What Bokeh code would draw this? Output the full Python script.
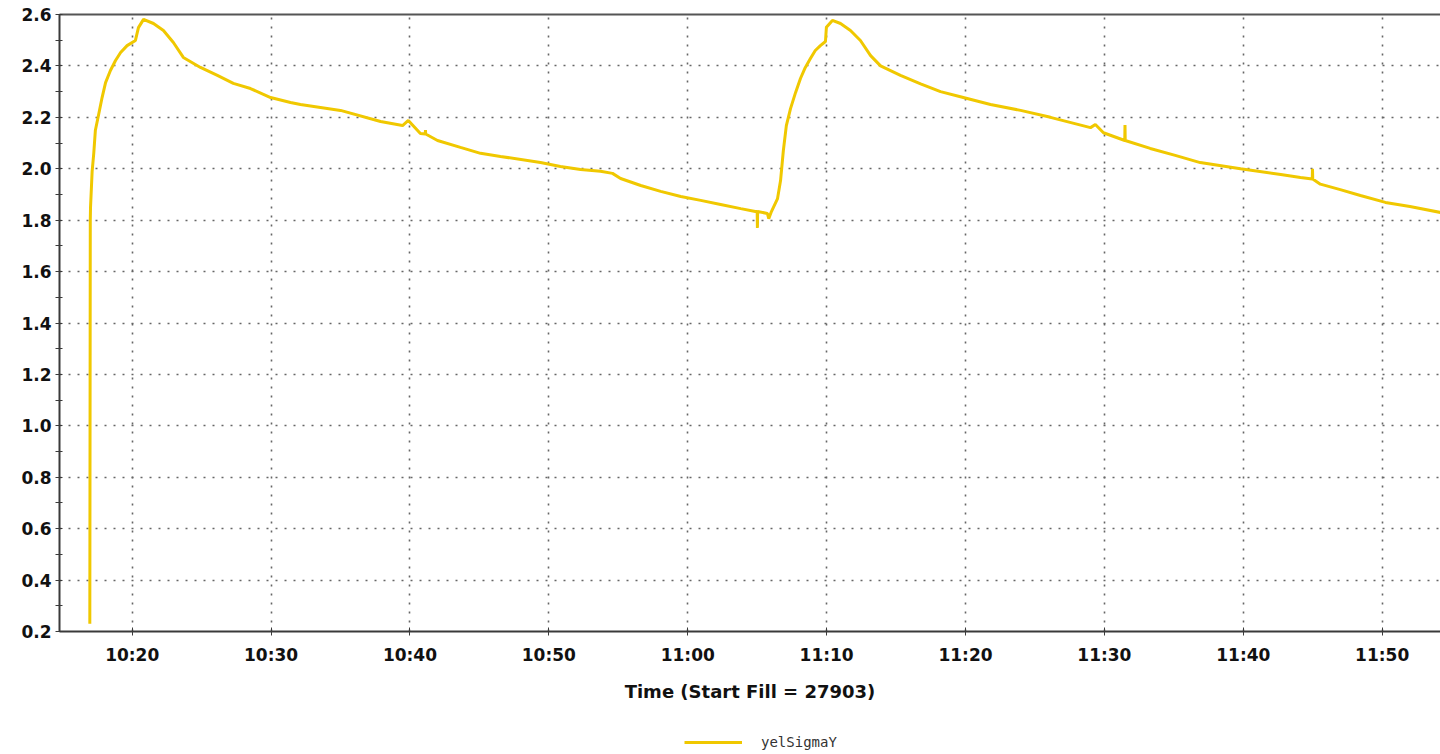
import pandas as pd
from bokeh.plotting import figure
from bokeh.layouts import column
from bokeh.models import (Range1d, FixedTicker, DatetimeTickFormatter, LinearAxis,
                          Legend, LegendItem, PrintfTickFormatter)
from bokeh.embed import file_html
from bokeh.resources import INLINE

# ---- data ----
day = "2000-01-01 "
times = [
    "10:16:57", "10:16:59", "10:17:00", "10:17:07", "10:17:14", "10:17:21", "10:17:36",
    "10:17:50", "10:18:05", "10:18:26", "10:18:48", "10:19:10", "10:19:38", "10:20:14",
    "10:20:27", "10:20:49", "10:21:32", "10:22:15", "10:22:58", "10:23:41", "10:24:55",
    "10:26:08", "10:27:17", "10:28:31", "10:29:58", "10:31:24", "10:32:07", "10:35:00",
    "10:37:53", "10:39:28", "10:39:53", "10:40:45", "10:41:06", "10:41:07", "10:41:08",
    "10:41:59", "10:43:38", "10:45:05", "10:46:31", "10:49:24", "10:50:50", "10:52:17",
    "10:53:43", "10:54:35", "10:55:10", "10:56:37", "10:58:03", "10:59:30", "11:00:56",
    "11:02:22", "11:03:49", "11:04:52", "11:05:00", "11:05:01", "11:05:02", "11:05:44",
    "11:05:50", "11:06:00", "11:06:28", "11:06:41", "11:06:53", "11:07:06", "11:07:24",
    "11:07:46", "11:08:07", "11:08:28", "11:08:50", "11:09:11", "11:09:33", "11:09:55",
    "11:09:59", "11:10:25", "11:11:00", "11:11:43", "11:12:26", "11:13:10", "11:13:53",
    "11:15:19", "11:16:46", "11:18:12", "11:19:38", "11:21:48", "11:23:58", "11:26:07",
    "11:29:00", "11:29:21", "11:29:56", "11:31:28", "11:31:29", "11:31:30", "11:33:18",
    "11:35:06", "11:36:54", "11:39:48", "11:42:42", "11:44:07", "11:44:58", "11:44:59",
    "11:45:00", "11:45:33", "11:46:59", "11:48:26", "11:50:14", "11:52:00", "11:54:12",
]
sigma_y = [
    0.23, 1.80, 1.85, 1.99, 2.06, 2.15, 2.215,
    2.277, 2.335, 2.382, 2.421, 2.452, 2.479, 2.499,
    2.549, 2.581, 2.565, 2.538, 2.491, 2.433, 2.394,
    2.363, 2.332, 2.312, 2.277, 2.258, 2.25, 2.227,
    2.184, 2.168, 2.188, 2.137, 2.135, 2.15, 2.135,
    2.11, 2.083, 2.06, 2.048, 2.024, 2.009, 1.997,
    1.99, 1.982, 1.962, 1.935, 1.912, 1.892, 1.877,
    1.861, 1.845, 1.834, 1.834, 1.77, 1.834, 1.826,
    1.806, 1.83, 1.884, 1.954, 2.07, 2.168, 2.234,
    2.297, 2.351, 2.394, 2.429, 2.46, 2.479, 2.495,
    2.55, 2.577, 2.565, 2.538, 2.499, 2.44, 2.40,
    2.363, 2.33, 2.30, 2.28, 2.25, 2.227, 2.20,
    2.16, 2.172, 2.14, 2.11, 2.17, 2.11, 2.079,
    2.052, 2.024, 2.00, 1.978, 1.966, 1.96, 2.00,
    1.96, 1.94, 1.919, 1.896, 1.869, 1.853, 1.83,
]
x_tick_labels = ["10:20", "10:30", "10:40", "10:50", "11:00", "11:10",
                 "11:20", "11:30", "11:40", "11:50"]
y_ticks = [0.2, 0.4, 0.6, 0.8, 1.0, 1.2, 1.4, 1.6, 1.8, 2.0, 2.2, 2.4, 2.6]
y_minor = [0.3, 0.5, 0.7, 0.9, 1.1, 1.3, 1.5, 1.7, 1.9, 2.1, 2.3, 2.5]
series_name = "yelSigmaY"
x_label = "Time (Start Fill = 27903)"

t = pd.to_datetime([day + s for s in times])
x_ticks = [pd.Timestamp(day + s).value / 1e6 for s in x_tick_labels]
x_start = pd.Timestamp(day + "10:14:46")
x_end = pd.Timestamp(day + "11:54:12")

LINE = "#F0C800"
AX = "#3a3a3a"
FONT = "DejaVu Sans"

p = figure(width=1440, height=710, x_axis_type="datetime",
           x_range=Range1d(x_start, x_end), y_range=Range1d(0.2, 2.6),
           output_backend="svg", toolbar_location=None,
           min_border_left=59, min_border_right=0, min_border_top=14,
           min_border_bottom=79, outline_line_color=None,
           background_fill_color="white", border_fill_color="white")

r = p.line(t, sigma_y, line_color=LINE, line_width=3)

# x axis
xa = p.xaxis[0]
xa.ticker = FixedTicker(ticks=x_ticks)
xa.formatter = DatetimeTickFormatter(minutes="%H:%M", hourmin="%H:%M", hours="%H:%M")
xa.axis_label = x_label
xa.axis_label_text_font = FONT
xa.axis_label_text_font_style = "bold"
xa.axis_label_text_font_size = "18px"
xa.axis_label_text_color = "#111111"
xa.axis_label_standoff = 13
xa.major_label_text_font = FONT
xa.major_label_text_font_style = "bold"
xa.major_label_text_font_size = "17px"
xa.major_label_text_color = "#111111"
xa.major_label_standoff = 9
xa.axis_line_width = 2
xa.axis_line_color = AX
xa.major_tick_in = 4
xa.major_tick_out = 4
xa.major_tick_line_color = AX
xa.minor_tick_line_color = None

# y axis
ya = p.yaxis[0]
ya.ticker = FixedTicker(ticks=y_ticks, minor_ticks=y_minor)
ya.formatter = PrintfTickFormatter(format="%.1f")
ya.major_label_text_font = FONT
ya.major_label_text_font_style = "bold"
ya.major_label_text_font_size = "17px"
ya.major_label_text_color = "#111111"
ya.major_label_standoff = 4
ya.axis_line_width = 2
ya.axis_line_color = AX
ya.major_tick_in = 3
ya.major_tick_out = 4
ya.minor_tick_in = 3
ya.minor_tick_out = 4
ya.major_tick_line_color = AX
ya.minor_tick_line_color = AX

# top border line
top = LinearAxis(ticker=FixedTicker(ticks=[]), major_label_text_font_size="0px",
                 axis_line_width=2, axis_line_color="#555555",
                 major_tick_line_color=None, minor_tick_line_color=None)
p.add_layout(top, "above")

# grids
for g in (p.xgrid[0], p.ygrid[0]):
    g.grid_line_color = "#666666"
    g.grid_line_width = 1.6
    g.grid_line_dash = "2 7"
p.xgrid[0].ticker = FixedTicker(ticks=x_ticks)
p.ygrid[0].ticker = FixedTicker(ticks=y_ticks)

# legend strip below the chart (key uses the series' own first sample,
# which lies outside this strip's ranges, so only the legend shows)
lg = figure(width=1440, height=44, x_range=Range1d(0, 1), y_range=Range1d(0, 1),
            output_backend="svg", toolbar_location=None,
            x_axis_location=None, y_axis_location=None, min_border=0,
            min_border_left=0, min_border_right=0, min_border_top=0,
            min_border_bottom=0, outline_line_color=None,
            background_fill_color="white", border_fill_color="white")
lg.xgrid.visible = False
lg.ygrid.visible = False
key = lg.line(x=[t[0].value / 1e6], y=[sigma_y[0]], line_color=LINE, line_width=3)
legend = Legend(items=[LegendItem(label=series_name, renderers=[key])],
                location=(625, 2), orientation="horizontal",
                glyph_width=58, glyph_height=20, label_standoff=19,
                label_text_font="DejaVu Sans Mono", label_text_font_size="14px",
                label_text_color="#333333", padding=0, margin=0, spacing=0,
                border_line_color=None, background_fill_alpha=0)
lg.add_layout(legend, "center")

layout = column(p, lg, spacing=0)
open("out.html", "w").write(file_html(layout, INLINE))
